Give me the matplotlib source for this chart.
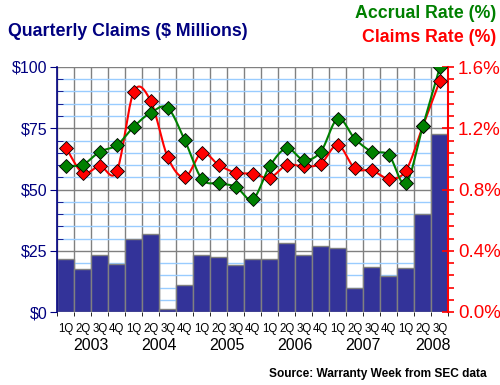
import numpy as np
import matplotlib
matplotlib.use("Agg")
import matplotlib.pyplot as plt
from matplotlib.ticker import MultipleLocator, FixedLocator

plt.rcParams['font.family'] = ['Liberation Sans', 'DejaVu Sans']

quarters = ["1Q", "2Q", "3Q", "4Q"] * 5 + ["1Q", "2Q", "3Q"]
years = ["2003", "2004", "2005", "2006", "2007", "2008"]
claims = [21.5, 17.4, 23.1, 19.5, 29.8, 31.7, 1.4, 10.9, 23.1, 22.3, 19.0, 21.5,
          21.5, 28.2, 23.1, 26.8, 26.0, 9.7, 18.2, 14.6, 17.8, 40.0, 72.5]
claims_rate = [1.073, 0.908, 0.953, 0.919, 1.439, 1.376, 1.010, 0.880, 1.040, 0.960,
               0.910, 0.903, 0.877, 0.960, 0.951, 0.969, 1.091, 0.938, 0.925, 0.871,
               0.923, 1.213, 1.509]
accrual_rate = [0.953, 0.962, 1.047, 1.089, 1.210, 1.302, 1.332, 1.121, 0.869, 0.840,
                0.818, 0.736, 0.953, 1.069, 0.993, 1.047, 1.263, 1.132, 1.047, 1.025,
                0.840, 1.213, 1.598]

NAVY = "#000080"
BAR = "#333399"
GREEN = "#008000"
RED = "#FF0000"


def smooth(x, y, n=20):
    x = np.asarray(x, float)
    y = np.asarray(y, float)
    px = np.concatenate([[2 * x[0] - x[1]], x, [2 * x[-1] - x[-2]]])
    py = np.concatenate([[2 * y[0] - y[1]], y, [2 * y[-1] - y[-2]]])
    xs, ys = [], []
    t = np.linspace(0, 1, n, endpoint=False)
    for i in range(1, len(px) - 2):
        p0, p1, p2, p3 = py[i - 1], py[i], py[i + 1], py[i + 2]
        q0, q1, q2, q3 = px[i - 1], px[i], px[i + 1], px[i + 2]
        for arr, a0, a1, a2, a3 in ((ys, p0, p1, p2, p3), (xs, q0, q1, q2, q3)):
            arr.extend(0.5 * (2 * a1 + (-a0 + a2) * t + (2 * a0 - 5 * a1 + 4 * a2 - a3) * t ** 2
                              + (-a0 + 3 * a1 - 3 * a2 + a3) * t ** 3))
    xs.append(x[-1]); ys.append(y[-1])
    return np.array(xs), np.array(ys)


fig = plt.figure(figsize=(5, 3.85), dpi=100)
ax = fig.add_axes([57.3 / 500, 73 / 385, 391 / 500, 245 / 385])
n = len(claims)
xidx = np.arange(n)
ax.bar(xidx, claims, width=1.0, color=BAR, edgecolor="#808080", linewidth=1.0, zorder=2)
ax.set_xlim(-0.5, n - 0.5)
ax.set_ylim(0, 100)
ax.set_axisbelow(True)

# grid
ax.yaxis.set_major_locator(MultipleLocator(25))
ax.yaxis.set_minor_locator(MultipleLocator(5))
ax.grid(which="minor", axis="y", color="#99CCFF", linewidth=1.0, zorder=0)
ax.grid(which="major", axis="y", color="#808080", linewidth=1.0, zorder=0)
ax.xaxis.set_minor_locator(FixedLocator(np.arange(-0.5, n, 1.0)))
ax.grid(which="minor", axis="x", color="#808080", linewidth=1.0, zorder=0)
ax.xaxis.set_major_locator(FixedLocator(xidx))
ax.set_xticklabels(quarters, fontsize=8.3)
ax.tick_params(axis="x", which="major", length=0, pad=8)
ax.tick_params(axis="x", which="minor", length=3, color="black", direction="out")

ax.set_yticks([0, 25, 50, 75, 100])
ax.set_yticklabels(["$0", "$25", "$50", "$75", "$100"], color=NAVY, fontsize=11.5)
ax.tick_params(axis="y", which="major", length=5, color=NAVY, direction="out", pad=2)
ax.tick_params(axis="y", which="minor", length=4, color=NAVY, direction="in")
for s in ["top", "right", "bottom"]:
    ax.spines[s].set_visible(False)
ax.spines["left"].set_color(NAVY)
ax.spines["left"].set_linewidth(1.2)

ax2 = ax.twinx()
ax2.set_ylim(0, 1.6)
ax2.set_yticks([0, 0.4, 0.8, 1.2, 1.6])
ax2.set_yticklabels(["0.0%", "0.4%", "0.8%", "1.2%", "1.6%"], color=RED, fontsize=13.5)
ax2.yaxis.set_minor_locator(MultipleLocator(0.08))
ax2.tick_params(axis="y", which="major", length=8, color=RED, direction="inout", pad=3, width=1.2)
ax2.tick_params(axis="y", which="minor", length=4, color=RED, direction="out", width=1.2)
for s in ["top", "left", "bottom"]:
    ax2.spines[s].set_visible(False)
ax2.spines["right"].set_color(RED)
ax2.spines["right"].set_linewidth(1.5)

sx, sy = smooth(xidx, claims_rate)
ax2.plot(sx, sy, color=RED, linewidth=1.5, zorder=3)
sx, sy = smooth(xidx, accrual_rate)
ax2.plot(sx, sy, color=GREEN, linewidth=1.5, zorder=4)
ax2.plot(xidx, claims_rate, linestyle="none", marker="D", markersize=7,
         markerfacecolor=RED, markeredgecolor="black", markeredgewidth=0.6, zorder=5)
ax2.plot(xidx, accrual_rate, linestyle="none", marker="D", markersize=7,
         markerfacecolor=GREEN, markeredgecolor="black", markeredgewidth=0.6, zorder=6)

# year labels
year_centers = [1.5, 5.5, 9.5, 13.5, 17.5, 21.6]
for yr, c in zip(years, year_centers):
    ax.text(c, -0.108, yr, transform=ax.get_xaxis_transform(), ha="center", va="top",
            fontsize=11.5, color="black")

fig.text(8 / 500, 1 - 32 / 385, "Quarterly Claims ($ Millions)", color=NAVY, fontsize=12.8,
         fontweight="bold", ha="left", va="center")
fig.text(496 / 500, 1 - 14 / 385, "Accrual Rate (%)", color=GREEN, fontsize=12.8,
         fontweight="bold", ha="right", va="center")
fig.text(496 / 500, 1 - 37 / 385, "Claims Rate (%)", color=RED, fontsize=12.8,
         fontweight="bold", ha="right", va="center")
fig.text(487 / 500, 1 - 374 / 385, "Source: Warranty Week from SEC data", color="black",
         fontsize=8.6, fontweight="bold", ha="right", va="center")

fig.savefig("out.png", dpi=100)
